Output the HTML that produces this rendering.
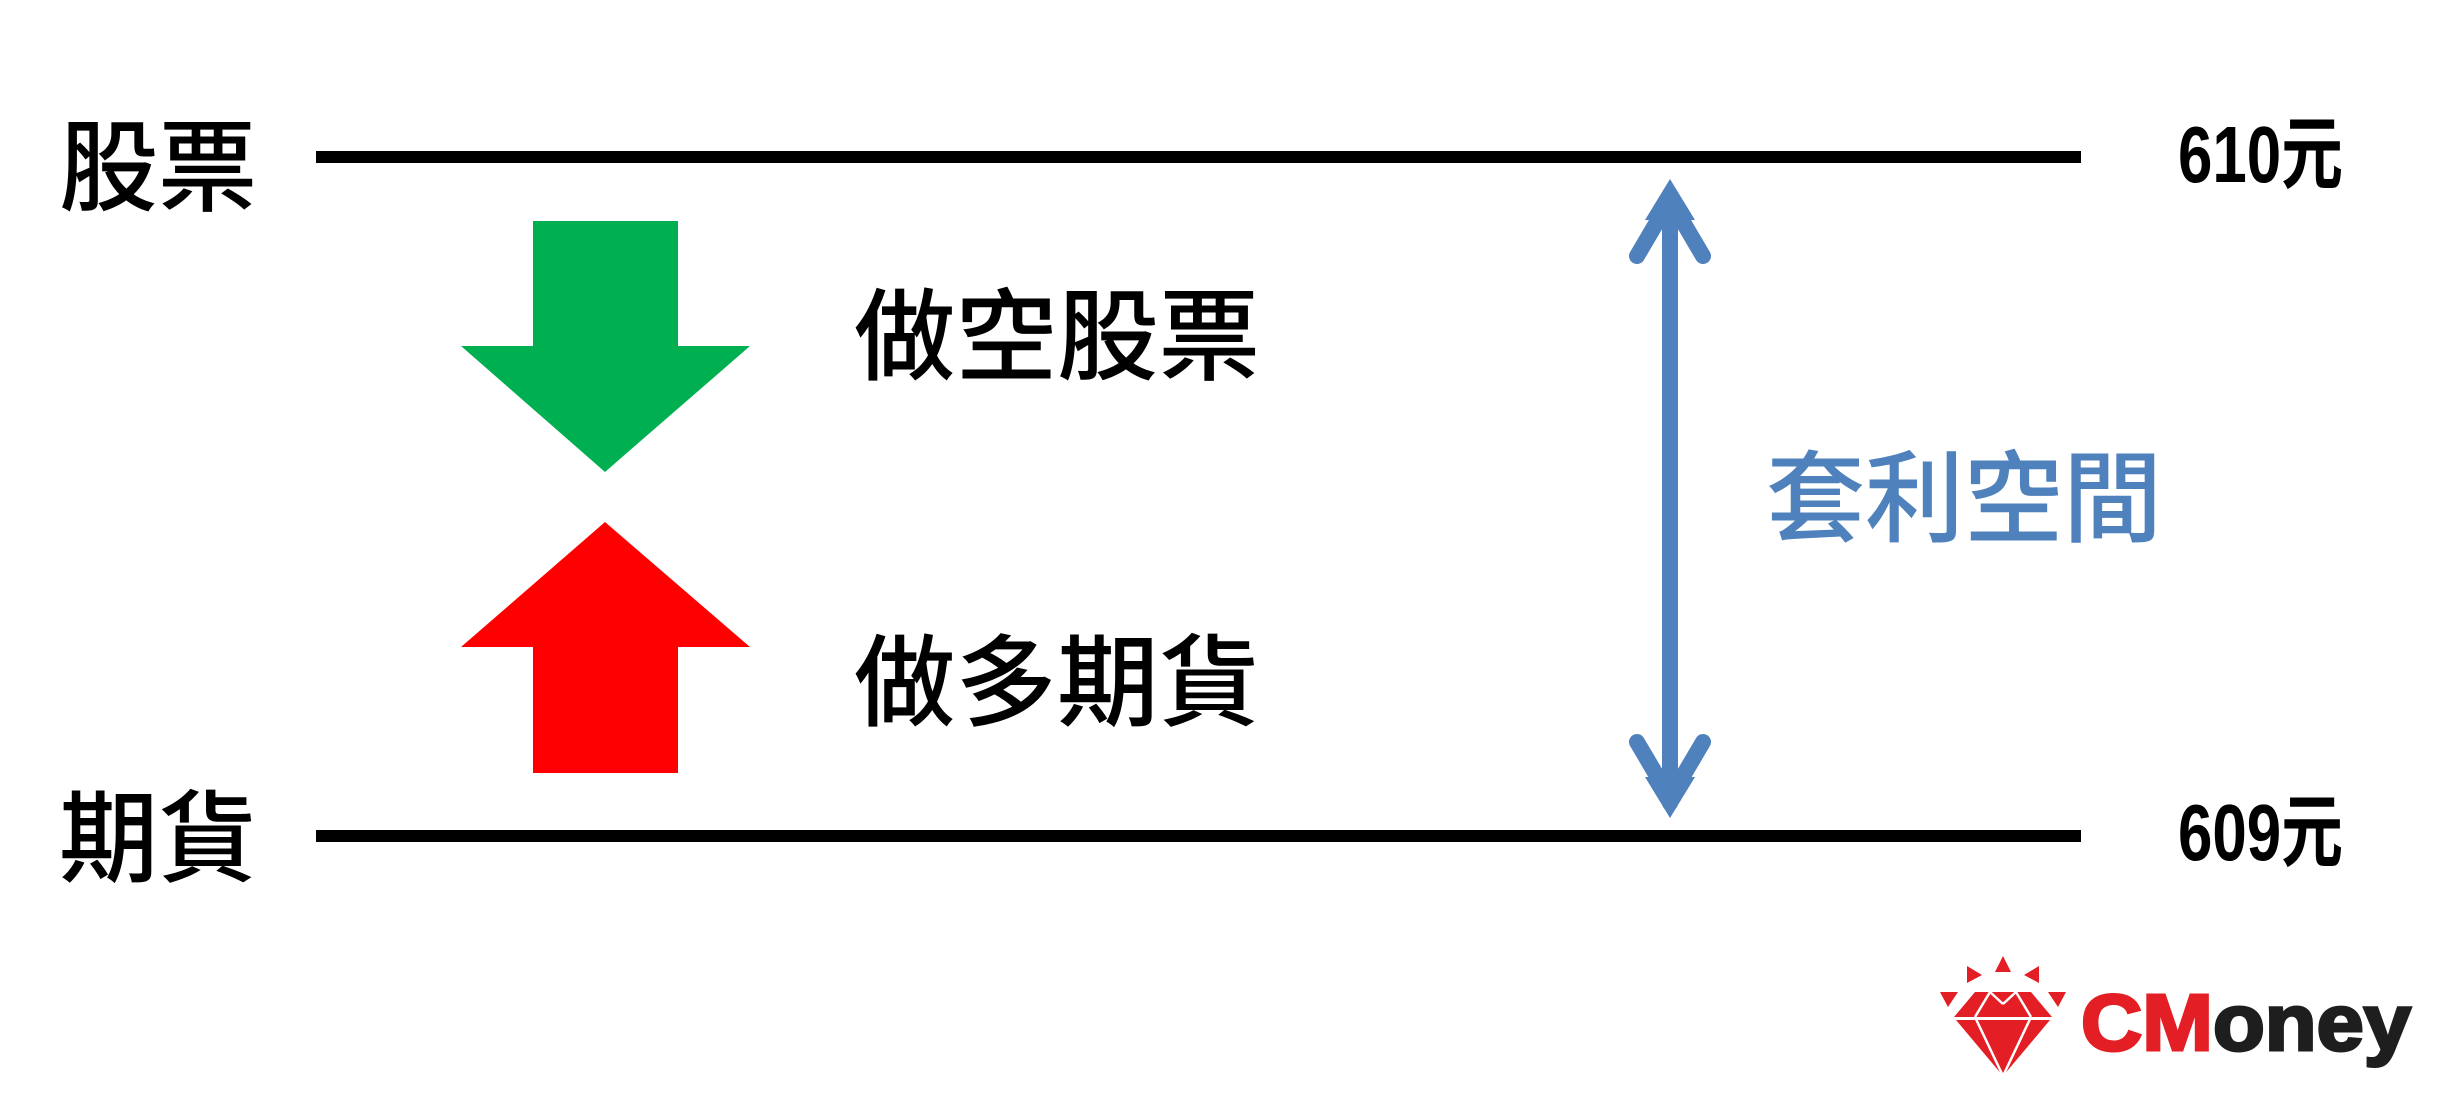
<!DOCTYPE html>
<html><head><meta charset="utf-8"><style>
html,body{margin:0;padding:0;background:#fff;}
svg{display:block;}
text{font-family:"Liberation Sans","Noto Sans CJK TC",sans-serif;}
</style></head><body>
<svg width="2445" height="1105" viewBox="0 0 2445 1105" xmlns="http://www.w3.org/2000/svg">
<rect width="2445" height="1105" fill="#fff"/>
<rect x="316" y="151" width="1765" height="12" fill="#000"/>
<rect x="316" y="830" width="1765" height="12" fill="#000"/>
<text x="59" y="203" font-size="100" font-weight="500" textLength="198" lengthAdjust="spacingAndGlyphs" font-family="Noto Sans CJK TC">股票</text>
<text x="59" y="874" font-size="100" font-weight="500" textLength="198" lengthAdjust="spacingAndGlyphs" font-family="Noto Sans CJK TC">期貨</text>
<text x="854" y="372" font-size="100" font-weight="500" textLength="406" lengthAdjust="spacingAndGlyphs" font-family="Noto Sans CJK TC">做空股票</text>
<text x="854" y="718" font-size="100" font-weight="500" textLength="406" lengthAdjust="spacingAndGlyphs" font-family="Noto Sans CJK TC">做多期貨</text>
<text x="1766" y="534" font-size="100" font-weight="500" fill="#4F81BD" textLength="396" lengthAdjust="spacingAndGlyphs" font-family="Noto Sans CJK TC">套利空間</text>
<text x="2178" y="182" font-size="80" font-weight="bold" textLength="165" lengthAdjust="spacingAndGlyphs">610元</text>
<text x="2178" y="860" font-size="80" font-weight="bold" textLength="165" lengthAdjust="spacingAndGlyphs">609元</text>
<polygon points="533,221 678,221 678,346 750,346 605,472 461,346 533,346" fill="#00B050"/>
<polygon points="605,522 750,647 678,647 678,773 533,773 533,647 461,647" fill="#FF0000"/>
<g stroke="#4F81BD" stroke-width="16" stroke-linecap="round" stroke-linejoin="miter" fill="none">
<line x1="1670" y1="195" x2="1670" y2="803"/>
<polyline points="1637,256 1670,200 1703,256"/>
<polyline points="1637,742 1670,798 1703,742"/>
</g>
<polygon points="1670,179 1695,220 1645,220" fill="#4F81BD"/>
<polygon points="1670,818 1695,777 1645,777" fill="#4F81BD"/>
<g fill="#E31E24">
<polygon points="2003,956 2011,972 1995,972"/>
<polygon points="1967,966 1982,975 1967,983"/>
<polygon points="2039,966 2024,975 2039,983"/>
<polygon points="1940,992 1958,992 1948,1007"/>
<polygon points="2066,992 2048,992 2058,1007"/>
<polygon points="1975,992 2031,992 2052,1017 1954,1017"/>
<polygon points="1956,1020 2050,1020 2003,1076"/>
</g>
<g stroke="#fff" stroke-width="2.5" fill="none">
<line x1="1990" y1="992" x2="1975" y2="1017"/>
<line x1="2016" y1="992" x2="2031" y2="1017"/>
<line x1="1975" y1="1017" x2="2003" y2="1076"/>
<line x1="2031" y1="1017" x2="2003" y2="1076"/>
<line x1="1990" y1="992" x2="2003" y2="1004"/>
<line x1="2016" y1="992" x2="2003" y2="1004"/>
</g>
<text x="2081" y="1050" font-size="80" font-weight="bold" stroke-width="3" textLength="330" lengthAdjust="spacingAndGlyphs"><tspan fill="#E31E24" stroke="#E31E24">CM</tspan><tspan fill="#1E1E1E" stroke="#1E1E1E">oney</tspan></text>
</svg>
</body></html>
